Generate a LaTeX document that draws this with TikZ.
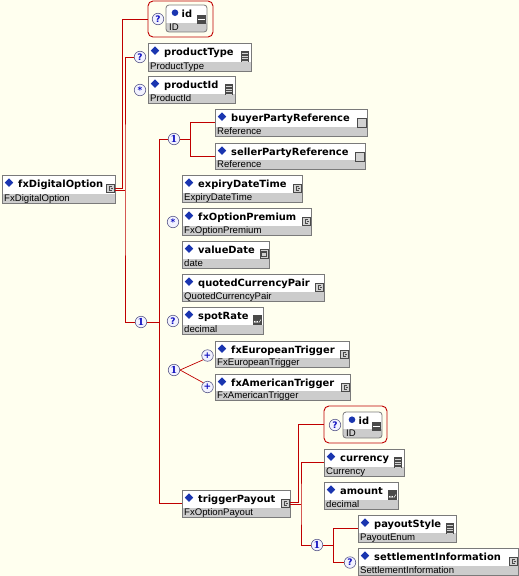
\documentclass[tikz,border=0pt]{standalone}
\usepackage{fontspec}
\setmainfont{DejaVu Sans}
\newfontfamily\typefam{Liberation Sans}
\newfontfamily\serfam{DejaVu Serif}
\usetikzlibrary{fit}
\definecolor{bgc}{HTML}{FFFFEF}
\definecolor{connred}{HTML}{C00000}
\definecolor{bandc}{HTML}{CCCCCC}
\definecolor{bordgray}{HTML}{7A7A7A}
\definecolor{diac}{HTML}{1A35B0}
\definecolor{occdraw}{HTML}{5A5A8A}
\definecolor{occfill}{HTML}{F2F2FF}
\definecolor{occtext}{HTML}{1010C0}
\definecolor{icondk}{HTML}{4A4A4A}
\definecolor{iconlt}{HTML}{D2D2D2}
\newcommand\titlefont{\fontsize{9.9}{11}\selectfont\bfseries}
\newcommand\typefont{\typefam\fontsize{9.6}{11}\selectfont}
\newcommand\occfont{\fontsize{9}{9}\selectfont\bfseries}
\newcommand\onefont{\serfam\fontsize{9.5}{9.5}\selectfont\bfseries}
\tikzset{
 conn/.style={draw=connred, line width=0.9pt},
 boxborder/.style={draw=bordgray, line width=0.8pt},
 titletext/.style={anchor=base west, inner sep=0pt, font=\titlefont},
 typetext/.style={anchor=base west, inner sep=0pt, font=\typefont},
 occ/.style={circle, draw=occdraw, fill=occfill, line width=0.6pt, minimum size=11.5pt, inner sep=0pt, font=\occfont, text=occtext},
 seqocc/.style={occ, font=\onefont},
 redbox/.style={draw=connred, line width=0.9pt, rounded corners=5pt, inner sep=0pt},
}
% icons: #1 = x2, #2 = y1
\newcommand\iconC[2]{%
 \filldraw[fill=iconlt, draw=icondk, line width=0.6pt] (#1-9,#2+9) rectangle (#1-1,#2+17);
 \draw[icondk, line width=0.7pt] (#1-3,#2+11) -- (#1-6,#2+11) -- (#1-6,#2+15) -- (#1-3,#2+15);
 \draw[icondk, line width=0.5pt] (#1-4.5,#2+13) -- (#1-2.5,#2+13);
}
\newcommand\iconE[2]{%
 \fill[icondk] (#1-10,#2+8) rectangle (#1-2,#2+19);
 \foreach \k in {10.5,13,15.5,18}{\draw[iconlt, line width=0.7pt] (#1-9,#2+\k) -- (#1-3,#2+\k);}
}
\newcommand\iconN[2]{%
 \filldraw[fill=iconlt, draw=icondk, line width=0.6pt] (#1-10,#2+9) rectangle (#1-1,#2+18);
}
\newcommand\iconD[2]{%
 \filldraw[fill=iconlt, draw=icondk, line width=0.6pt] (#1-9,#2+8) rectangle (#1-1,#2+17);
 \draw[icondk, line width=0.5pt] (#1-7.5,#2+10.5) rectangle (#1-2.5,#2+15);
 \draw[icondk, line width=0.9pt] (#1-7.5,#2+11) -- (#1-2.5,#2+11);
}
\newcommand\iconX[2]{%
 \fill[icondk] (#1-10,#2+8) rectangle (#1-1,#2+18);
 \draw[white, line width=0.5pt] (#1-9,#2+14) -- (#1-7.5,#2+15.5) (#1-9,#2+15.5) -- (#1-7.5,#2+14)
   (#1-6.5,#2+14) -- (#1-5,#2+15.5) (#1-6.5,#2+15.5) -- (#1-5,#2+14)
   (#1-4,#2+15.5) -- (#1-2,#2+12.5);
}
% element box: name, x1, y1, x2, y2, title, type, icon
\newcommand\elem[8]{%
 \coordinate (#1-a) at (#2,#3); \coordinate (#1-b) at (#4,#5);
 \node[fit=(#1-a)(#1-b), inner sep=0pt, outer sep=0pt, fill=white] (#1) {};
 \fill[bandc] (#1.south west) rectangle ([yshift=9pt]#1.south east);
 \draw[boxborder] (#1.south west) rectangle (#1.north east);
 \fill[diac] ([xshift=7pt,yshift=-3.3pt]#1.north west) -- ++(4.2,4.3) -- ++(-4.2,4.3) -- ++(-4.2,-4.3) -- cycle;
 \node[titletext] at ([xshift=16pt,yshift=-12pt]#1.north west) {#6};
 \node[typetext] at ([xshift=2pt,yshift=2pt]#1.south west) {#7};
 \csname icon#8\endcsname{#4}{#3}%
}
% id attribute box: name, x1, y1, x2, y2
\newcommand\idbox[5]{%
 \coordinate (#1-a) at (#2,#3); \coordinate (#1-b) at (#4,#5);
 \node[fit=(#1-a)(#1-b), inner sep=0pt, outer sep=0pt] (#1) {};
 \begin{scope}
  \clip[rounded corners=3pt] (#2,#3) rectangle (#4,#5);
  \fill[white] (#2,#3) rectangle (#4,#5);
  \fill[bandc] (#2,#5-9) rectangle (#4,#5);
 \end{scope}
 \draw[boxborder, rounded corners=3pt] (#2,#3) rectangle (#4,#5);
 \fill[diac] (#2+9,#3+7.7) circle (3.3pt);
 \node[titletext] at (#2+15.5,#3+12) {id};
 \node[typetext] at (#2+3,#5-2) {ID};
 \fill[icondk] (#4-10,#3+10) rectangle (#4-1.5,#3+19);
 \draw[white, line width=1pt] (#4-9,#3+14.5) -- (#4-2.5,#3+14.5);
}
\begin{document}
\begin{tikzpicture}[x=1pt,y=-1pt]
\useasboundingbox (0,0) rectangle (519,576);
\fill[bgc] (0,0) rectangle (519,576);

% ---- element boxes ----
\elem{root}{2}{175}{115}{203}{fxDigitalOption}{FxDigitalOption}{C}
\elem{ptype}{148}{43}{251}{71}{productType}{ProductType}{E}
\elem{pid}{148}{76}{235}{103}{productId}{ProductId}{E}
\elem{buyer}{215}{109}{367}{136}{buyerPartyReference}{Reference}{N}
\elem{seller}{215}{143}{365}{169}{sellerPartyReference}{Reference}{N}
\elem{expiry}{182}{175}{302}{202}{expiryDateTime}{ExpiryDateTime}{C}
\elem{prem}{182}{208}{311}{235}{fxOptionPremium}{FxOptionPremium}{C}
\elem{vdate}{182}{241}{269}{268}{valueDate}{date}{D}
\elem{qcp}{182}{274}{324}{301}{quotedCurrencyPair}{QuotedCurrencyPair}{C}
\elem{spot}{182}{307}{263}{334}{spotRate}{decimal}{X}
\elem{eur}{215}{341}{349}{367}{fxEuropeanTrigger}{FxEuropeanTrigger}{C}
\elem{amer}{215}{374}{350}{400}{fxAmericanTrigger}{FxAmericanTrigger}{C}
\elem{tp}{182}{490}{290}{517}{triggerPayout}{FxOptionPayout}{C}
\elem{cur}{324}{449}{404}{476}{currency}{Currency}{E}
\elem{amt}{324}{482}{398}{509}{amount}{decimal}{X}
\elem{pstyle}{358}{515}{456}{542}{payoutStyle}{PayoutEnum}{E}
\elem{settle}{358}{548}{518}{575}{settlementInformation}{SettlementInformation}{C}

% ---- id attributes in red frames ----
\coordinate (rid1-a) at (148,1); \coordinate (rid1-b) at (213,37);
\node[redbox, fit=(rid1-a)(rid1-b)] (rid1) {};
\idbox{id1}{166}{5}{207}{32}
\coordinate (rid2-a) at (324,406); \coordinate (rid2-b) at (387,443);
\node[redbox, fit=(rid2-a)(rid2-b)] (rid2) {};
\idbox{id2}{343}{412}{382}{438}

% ---- occurrence / compositor circles ----
\node[occ] (q-id1) at (158,19) {?};
\node[occ] (q-pt) at (140,57) {?};
\node[occ] (s-pid) at (140,90) {*};
\node[seqocc] (seqMain) at (141,322) {1};
\node[seqocc] (seqBS) at (174,139) {1};
\node[occ] (s-prem) at (173,222) {*};
\node[occ] (q-spot) at (173,321) {?};
\node[seqocc] (choice) at (174,370) {1};
\node[occ] (p-eu) at (207.5,355.5) {+};
\node[occ] (p-am) at (207.5,387) {+};
\node[occ] (q-id2) at (335,425) {?};
\node[seqocc] (seqTP) at (317,545) {1};
\node[occ] (q-settle) at (350,562.5) {?};

% ---- connectors ----
\draw[conn] ([yshift=1pt]root.east) -- ++(7,0) |- (rid1.west);
\path ([yshift=-1pt]root.east) ++(10,0) coordinate (r2);
\draw[conn] ([yshift=-1pt]root.east) -- (r2);
\draw[conn] (q-pt.west) -| (r2) |- (seqMain.west);
\path (seqMain.east) ++(12,0) coordinate (v1);
\draw[conn] (seqMain.east) -- (v1);
\draw[conn] (seqBS.west) -| (v1) |- (tp.west);
\path (seqBS.east) ++(10,0) coordinate (v2);
\draw[conn] (seqBS.east) -- (v2);
\draw[conn] (buyer.west) -| (v2) |- (seller.west);
\draw[conn, line width=0.7pt] (choice.east) -- (p-eu.south west);
\draw[conn, line width=0.7pt] (choice.east) -- (p-am.north west);
\draw[conn] ([yshift=1pt]tp.east) -- ++(8.5,0) |- (rid2.west);
\path ([yshift=-1pt]tp.east) ++(11,0) coordinate (t2);
\draw[conn] ([yshift=-1pt]tp.east) -- (t2);
\draw[conn] (cur.west) -| (t2) |- (seqTP.west);
\path (seqTP.east) ++(10,0) coordinate (v3);
\draw[conn] (seqTP.east) -- (v3);
\draw[conn] (pstyle.west) -| (v3) |- (q-settle.west);
\end{tikzpicture}
\end{document}
